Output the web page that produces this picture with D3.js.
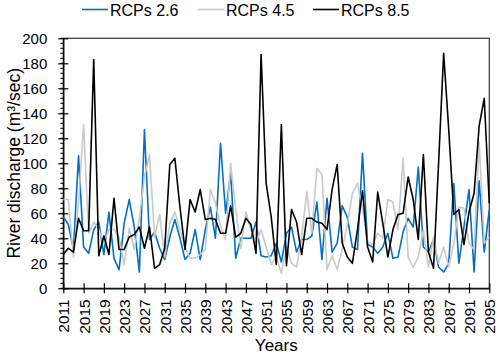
<!DOCTYPE html>
<html><head><meta charset="utf-8">
<script src="https://cdn.jsdelivr.net/npm/d3@7/dist/d3.min.js"></script>
<style>
body{margin:0;background:#fff}
svg{display:block}
text{font-family:"Liberation Sans",Arial,sans-serif;fill:#000}
</style>
</head><body>
<svg id="chart" width="498" height="355"></svg>
<script>
// ---- data ----
const years = d3.range(2011, 2096);
const rcp26 = [57,51,31,106,33,28,47,53,27,61,24,15,52,71,49,13,127,39,45,32,
  23,41,55,40,23,28,47,23,47,65,40,116,60,92,24,40,40,40,53,26,
  25,26,36,21,44,49,29,39,39,42,69,23,72,29,36,66,57,33,31,108,
  35,33,28,33,44,24,25,45,56,49,97,33,29,39,17,13,20,84,20,49,
  79,13,86,29,63];
const rcp45 = [71,71,25,68,131,44,53,47,36,47,47,41,19,48,31,56,89,107,41,59,
  25,52,61,47,33,24,24,27,31,79,68,50,39,100,63,32,61,47,36,47,
  33,19,25,12,33,20,17,41,77,44,96,91,15,26,15,31,51,76,84,63,
  37,35,44,40,71,69,47,104,25,17,25,47,17,41,20,33,17,36,65,64,
  36,31,117,36,41];
const rcp85 = [27,32,29,56,46,46,183,26,42,27,72,31,31,41,43,49,32,49,16,19,
  32,99,104,65,31,71,61,79,55,56,55,44,44,66,41,44,56,51,28,187,
  84,57,19,131,18,63,53,27,56,56,53,52,47,79,99,36,25,20,47,78,
  33,21,77,52,25,47,59,60,89,71,39,107,29,16,100,188,127,59,63,35,
  61,76,130,152,68];
const seriesNames = ["RCPs 2.6","RCPs 4.5","RCPs 8.5"];
const seriesColors = ["#0070C0","#C9C9C9","#000000"];
const xTickYears = [2011,2015,2019,2023,2027,2031,2035,2039,2043,2047,2051,2055,2059,2063,2067,2071,2075,2079,2083,2087,2091,2095];
const yTicks = [0,20,40,60,80,100,120,140,160,180,200];
const yMinorTicks = d3.range(0, 201, 4);
const yTitle = "River discharge (m³/sec)";
const xTitle = "Years";

// ---- layout ----
const W = 498, H = 355;
const m = {left: 63.3, right: 8.7, top: 38.3, bottom: 66.7};
const svg = d3.select("#chart");
const x = d3.scaleLinear().domain([2011, 2095]).range([m.left, W - m.right]);
const y = d3.scaleLinear().domain([0, 200]).range([H - m.bottom, m.top]);

// plot frame
svg.append("rect")
  .attr("x", x(2011)).attr("y", y(200))
  .attr("width", x(2095) - x(2011)).attr("height", y(0) - y(200))
  .attr("fill", "none").attr("stroke", "#404040").attr("stroke-width", 1.3);

// minor y ticks
svg.append("g").selectAll("line").data(yMinorTicks).join("line")
  .attr("x1", x(2011) - 3).attr("x2", x(2011))
  .attr("y1", d => y(d)).attr("y2", d => y(d))
  .attr("stroke", "#000").attr("stroke-width", 1);

// y axis
const yAxis = svg.append("g").attr("transform", `translate(${x(2011)},0)`)
  .call(d3.axisLeft(y).tickValues(yTicks).tickSizeInner(5).tickSizeOuter(0).tickPadding(11));
yAxis.select(".domain").attr("stroke", "#000").attr("stroke-width", 1.3);
yAxis.selectAll(".tick line").attr("x2", 5).attr("x1", -5).attr("stroke", "#000").attr("stroke-width", 1.2);
yAxis.selectAll(".tick text").style("font-size", "15px").style("font-family", '"Liberation Sans",Arial,sans-serif');

// x axis
const xAxis = svg.append("g").attr("transform", `translate(0,${y(0)})`)
  .call(d3.axisBottom(x).tickValues(xTickYears).tickFormat(d3.format("d")).tickSizeInner(5).tickSizeOuter(0));
xAxis.select(".domain").attr("stroke", "#000").attr("stroke-width", 1.3);
xAxis.selectAll(".tick line").attr("y1", -5).attr("y2", 5).attr("stroke", "#000").attr("stroke-width", 1.2);
xAxis.selectAll(".tick text")
  .style("font-size", "15.5px").style("font-family", '"Liberation Sans",Arial,sans-serif')
  .attr("transform", "rotate(-90)")
  .attr("text-anchor", "end")
  .attr("x", -11).attr("y", 0).attr("dy", "0.35em");

// lines
const series = [rcp26, rcp45, rcp85];
const line = d3.line().x((d, i) => x(years[i])).y(d => y(d));
series.forEach((s, k) => {
  svg.append("path").datum(s)
    .attr("fill", "none")
    .attr("stroke", seriesColors[k])
    .attr("stroke-width", 1.6)
    .attr("stroke-linejoin", "round")
    .attr("d", line);
});

// legend
const legendX = [82, 198, 313];
const lg = svg.append("g");
seriesNames.forEach((n, k) => {
  lg.append("line").attr("x1", legendX[k]).attr("x2", legendX[k] + 26)
    .attr("y1", 9.5).attr("y2", 9.5)
    .attr("stroke", seriesColors[k]).attr("stroke-width", 1.6);
  lg.append("text").attr("x", legendX[k] + 28).attr("y", 15.5)
    .style("font-size", "16px").text(n);
});

// axis titles
svg.append("text")
  .attr("transform", `translate(20,${(y(0) + y(200)) / 2}) rotate(-90)`)
  .attr("text-anchor", "middle")
  .style("font-size", "17.5px").text(yTitle);
svg.append("text")
  .attr("x", (x(2011) + x(2095)) / 2).attr("y", 351)
  .attr("text-anchor", "middle")
  .style("font-size", "17px").text(xTitle);
</script>
</body></html>
